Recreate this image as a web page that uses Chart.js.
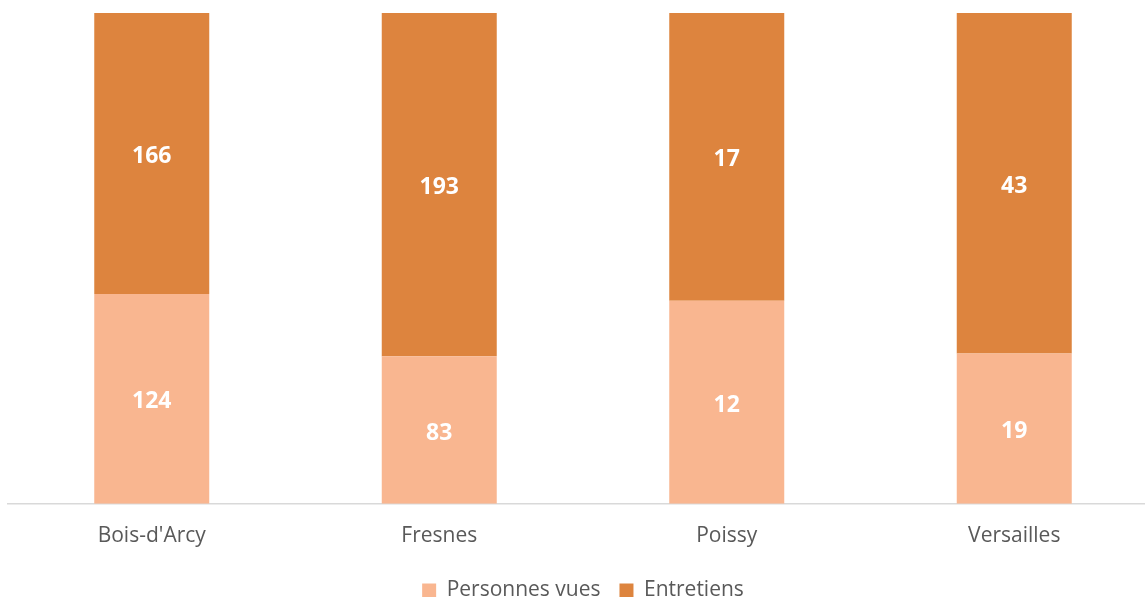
<!DOCTYPE html>
<html>
<head>
<meta charset="utf-8">
<script src="https://cdn.jsdelivr.net/npm/chart.js@4"></script>
<style>
  html, body { margin: 0; padding: 0; background: #fff; overflow: hidden; }
  #wrap { width: 1160px; height: 611px; }
</style>
</head>
<body>
<div id="wrap"><canvas id="chart" width="1160" height="611"></canvas></div>
<script>
// Data
const sites = ["Bois-d'Arcy", "Fresnes", "Poissy", "Versailles"];
const personnesVues = [124, 83, 12, 19];
const entretiens = [166, 193, 17, 43];

// 100% stacked: turn raw counts into shares of each site total
const totals = sites.map((s, i) => personnesVues[i] + entretiens[i]);
const pctVues = personnesVues.map((v, i) => v / totals[i] * 100);
const pctEntretiens = entretiens.map((v, i) => v / totals[i] * 100);

// Draw the raw counts in the middle of each segment
const valueLabels = {
    id: "valueLabels",
    afterDatasetsDraw(chart) {
        const ctx = chart.ctx;
        ctx.save();
        ctx.fillStyle = "#ffffff";
        ctx.font = "bold 23px 'Open Sans', sans-serif";
        ctx.textAlign = "center";
        ctx.textBaseline = "middle";
        chart.data.datasets.forEach((ds, d) => {
            chart.getDatasetMeta(d).data.forEach((bar, i) => {
                const p = bar.getCenterPoint();
                ctx.fillText(ds.raw[i], p.x, p.y + 3);
            });
        });
        ctx.restore();
    }
};

new Chart(document.getElementById("chart"), {
    type: "bar",
    data: {
        labels: sites,
        datasets: [
            { label: "Personnes vues", data: pctVues, raw: personnesVues, backgroundColor: "#F9B690" },
            { label: "Entretiens", data: pctEntretiens, raw: entretiens, backgroundColor: "#DD843E" }
        ]
    },
    options: {
        responsive: false,
        animation: false,
        barPercentage: 0.4,
        categoryPercentage: 1,
        layout: { padding: { top: 13, left: 8, right: 2, bottom: 0 } },
        scales: {
            x: {
                stacked: true,
                grid: { display: false },
                border: { color: "#d9d9d9", width: 1.5 },
                ticks: { color: "#595959", font: { family: "'Open Sans', sans-serif", size: 21 }, padding: 12 }
            },
            y: { stacked: true, display: false, min: 0, max: 100 }
        },
        plugins: {
            legend: {
                position: "bottom",
                labels: {
                    color: "#595959",
                    font: { family: "'Open Sans', sans-serif", size: 21 },
                    boxWidth: 14,
                    boxHeight: 14,
                    padding: 19
                }
            },
            tooltip: {
                callbacks: {
                    label: (c) => c.dataset.label + ": " + c.dataset.raw[c.dataIndex]
                }
            }
        }
    },
    plugins: [valueLabels]
});
</script>
</body>
</html>
